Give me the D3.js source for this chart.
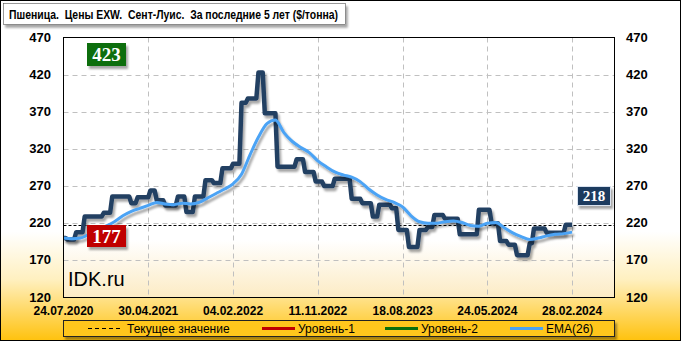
<!DOCTYPE html>
<html>
<head>
<meta charset="utf-8">
<script src="https://cdn.jsdelivr.net/npm/d3@7"></script>
<style>
  html, body { margin: 0; padding: 0; background: #fff; }
  svg { display: block; }
  text { font-family: "Liberation Sans", Arial, sans-serif; white-space: pre; }
</style>
</head>
<body>
<div id="chart"></div>
<script>
// weekly prices, $/t
const price = [
  200,200,198,198,198,198,208,208,208,208,229,229,229,229,229,229,229,229,229,234,
  234,234,234,256,256,256,256,256,256,256,256,256,247,247,247,255,255,255,255,255,
  255,264,264,264,251,251,251,251,244,244,244,244,244,244,256,256,256,256,235,235,
  235,235,256,256,256,256,256,278,278,278,278,274,274,274,274,294,294,294,294,294,
  300,300,300,300,382,382,382,388,388,388,388,388,423,423,423,368,368,368,368,368,
  368,296,296,296,296,296,296,296,296,296,306,306,306,306,289,289,289,289,289,276,
  276,276,276,270,270,270,270,270,280,280,280,280,280,280,280,280,253,253,253,253,
  253,247,247,247,247,247,229,229,229,245,245,245,245,245,245,240,240,240,211,211,
  211,211,211,188,188,188,188,188,211,211,211,211,215,215,215,231,231,231,231,231,
  226,226,226,226,226,226,226,205,205,205,205,205,205,205,205,205,238,238,238,238,
  238,238,220,220,220,220,196,196,196,196,191,191,191,191,177,177,177,177,177,177,
  193,193,213,213,213,213,213,213,207,207,207,207,207,207,207,207,207,218,218,218,218
];

// EMA(26), read every 4th week
const ema = [
  200,199,200,205,211,216,222,230,236,240,244,248,246,245,247,246,
  248,254,260,266,273,286,312,336,354,359,342,330,322,315,304,296,
  289,285,282,276,266,258,252,248,242,230,222,220,220,222,223,221,
  217,216,220,221,214,207,202,198,200,203,205,206,208
];
const emaStep = 4;

const xLabels = ["24.07.2020","30.04.2021","04.02.2022","11.11.2022","18.08.2023","24.05.2024","28.02.2024"];
const labelStep = 40;
const yTicks = [120,170,220,270,320,370,420,470];

const level1 = 177;
const level2 = 423;
const current = 218;

const W = 681, H = 341;
const plot = { left: 63.5, right: 614.5, top: 37.5, bottom: 297.5 };

const svg = d3.select('#chart').append('svg')
  .attr('width', W).attr('height', H);

const defs = svg.append('defs');
const bg = defs.append('linearGradient').attr('id', 'bg')
  .attr('x1', 0).attr('y1', 0).attr('x2', 0).attr('y2', 1);
bg.append('stop').attr('offset', '0.68').attr('stop-color', '#ffffff');
bg.append('stop').attr('offset', '0.82').attr('stop-color', '#fff0c0');
bg.append('stop').attr('offset', '1').attr('stop-color', '#ffc20e');

const pg = defs.append('linearGradient').attr('id', 'pg')
  .attr('x1', 0).attr('y1', 0).attr('x2', 0).attr('y2', 1);
pg.append('stop').attr('offset', '0.78').attr('stop-color', '#ffffff');
pg.append('stop').attr('offset', '1').attr('stop-color', '#fcebc4');

const sh = defs.append('filter').attr('id', 'shadow')
  .attr('x', '-10%').attr('y', '-10%').attr('width', '130%').attr('height', '140%');
sh.append('feDropShadow').attr('dx', 2).attr('dy', 3).attr('stdDeviation', 1.2)
  .attr('flood-color', '#000').attr('flood-opacity', 0.35);

// background + frame
svg.append('rect').attr('x', 0.5).attr('y', 0.5).attr('width', W - 1).attr('height', H - 1)
  .attr('fill', 'url(#bg)').attr('stroke', '#000');

// title
svg.append('rect').attr('x', 3.5).attr('y', 3.5).attr('width', 342).attr('height', 21)
  .attr('fill', '#fff').attr('stroke', '#555').attr('stroke-width', 0.6)
  .attr('filter', 'url(#shadow)');
svg.append('text').attr('x', 9).attr('y', 19)
  .attr('font-size', 13.5).attr('font-weight', 'bold')
  .attr('textLength', 329).attr('lengthAdjust', 'spacingAndGlyphs')
  .text('Пшеница.  Цены EXW.  Сент-Луис.  За последние 5 лет ($/тонна)');

const x = d3.scaleLinear().domain([0, 260]).range([plot.left, plot.right]);
const y = d3.scaleLinear().domain([120, 470]).range([plot.bottom, plot.top]);

// plot area
svg.append('rect').attr('x', plot.left).attr('y', plot.top)
  .attr('width', plot.right - plot.left).attr('height', plot.bottom - plot.top)
  .attr('fill', 'url(#pg)');

const grid = svg.append('g').attr('stroke', '#c0c0c0').attr('stroke-dasharray', '5,4');
grid.selectAll('.hg').data(yTicks.slice(1, -1)).join('line')
  .attr('x1', plot.left).attr('x2', plot.right)
  .attr('y1', d => Math.round(y(d)) + 0.5).attr('y2', d => Math.round(y(d)) + 0.5);
grid.selectAll('.vg').data(xLabels.slice(1)).join('line')
  .attr('x1', (d, i) => Math.round(x((i + 1) * labelStep)) + 0.5)
  .attr('x2', (d, i) => Math.round(x((i + 1) * labelStep)) + 0.5)
  .attr('y1', plot.top).attr('y2', plot.bottom);

// level lines
svg.append('line').attr('x1', plot.left).attr('x2', plot.right)
  .attr('y1', y(level2)).attr('y2', y(level2))
  .attr('stroke', '#0b6e0b').attr('stroke-width', 3).attr('filter', 'url(#shadow)');
svg.append('line').attr('x1', plot.left).attr('x2', plot.right)
  .attr('y1', y(level1)).attr('y2', y(level1))
  .attr('stroke', '#c00000').attr('stroke-width', 3).attr('filter', 'url(#shadow)');
svg.append('line').attr('x1', plot.left).attr('x2', plot.right)
  .attr('y1', Math.round(y(current)) + 0.5).attr('y2', Math.round(y(current)) + 0.5)
  .attr('stroke', '#000').attr('stroke-dasharray', '3,2');

// series
const priceLine = d3.line().x((d, i) => x(i)).y(d => y(d));
svg.append('path').datum(price)
  .attr('d', priceLine)
  .attr('fill', 'none').attr('stroke', '#233f62').attr('stroke-width', 4.5)
  .attr('stroke-linejoin', 'round').attr('filter', 'url(#shadow)');

const emaLine = d3.line().x((d, i) => x(i * emaStep)).y(d => y(d)).curve(d3.curveMonotoneX);
svg.append('path').datum(ema)
  .attr('d', emaLine)
  .attr('fill', 'none').attr('stroke', '#4ba3f5').attr('stroke-width', 3)
  .attr('stroke-linejoin', 'round').attr('filter', 'url(#shadow)');

// plot border
svg.append('rect').attr('x', plot.left).attr('y', plot.top)
  .attr('width', plot.right - plot.left).attr('height', plot.bottom - plot.top)
  .attr('fill', 'none').attr('stroke', '#000');

// y labels, both sides
const yl = svg.append('g').attr('font-size', 13).attr('font-weight', 'bold');
yl.selectAll('.yl').data(yTicks).join('text')
  .attr('x', 51).attr('y', d => y(d) + 4).attr('text-anchor', 'end').text(d => d);
yl.selectAll('.yr').data(yTicks).join('text')
  .attr('x', 626).attr('y', d => y(d) + 4).attr('text-anchor', 'start').text(d => d);

// x labels
svg.append('g').attr('font-size', 12).attr('font-weight', 'bold')
  .selectAll('text').data(xLabels).join('text')
  .attr('x', (d, i) => x(i * labelStep)).attr('y', 315)
  .attr('text-anchor', 'middle').text(d => d);

// value badges
function badge(cx, cy, w, h, fill, txt, fs, stroke) {
  svg.append('rect').attr('x', cx).attr('y', cy).attr('width', w).attr('height', h)
    .attr('fill', fill).attr('stroke', stroke || 'none').attr('filter', 'url(#shadow)');
  svg.append('text').attr('x', cx + w / 2).attr('y', cy + h / 2 + fs * 0.35)
    .attr('text-anchor', 'middle').attr('fill', '#fff')
    .style('font-family', '"Liberation Serif", "DejaVu Serif", serif')
    .attr('font-size', fs).attr('font-weight', 'bold').text(txt);
}
badge(87, 43, 39, 23, '#0b6e0b', level2, 19);
badge(87, 225, 39, 22, '#c00000', level1, 19);
badge(577.5, 186.5, 33, 19, '#1f3a5f', current, 15, '#d9e2ef');

// watermark
svg.append('text').attr('x', 68).attr('y', 286).attr('font-size', 20).text('IDK.ru');

// legend
const lg = svg.append('g');
lg.append('rect').attr('x', 63.5).attr('y', 320.5).attr('width', 551).attr('height', 16)
  .attr('fill', '#ffc61e').attr('stroke', '#222').attr('filter', 'url(#shadow)');
const items = [
  { x: 88, label: 'Текущее значение', color: '#000', dash: '4,3', w: 1 },
  { x: 262, label: 'Уровень-1', color: '#c00000', dash: null, w: 3 },
  { x: 385, label: 'Уровень-2', color: '#0b6e0b', dash: null, w: 3 },
  { x: 510, label: 'EMA(26)', color: '#4ba3f5', dash: null, w: 3 }
];
items.forEach(it => {
  lg.append('line').attr('x1', it.x).attr('x2', it.x + 33).attr('y1', 328.5).attr('y2', 328.5)
    .attr('stroke', it.color).attr('stroke-width', it.w).attr('stroke-dasharray', it.dash);
  lg.append('text').attr('x', it.x + (it.dash ? 39 : 36)).attr('y', 333)
    .attr('font-size', 12).text(it.label);
});
</script>
</body>
</html>
